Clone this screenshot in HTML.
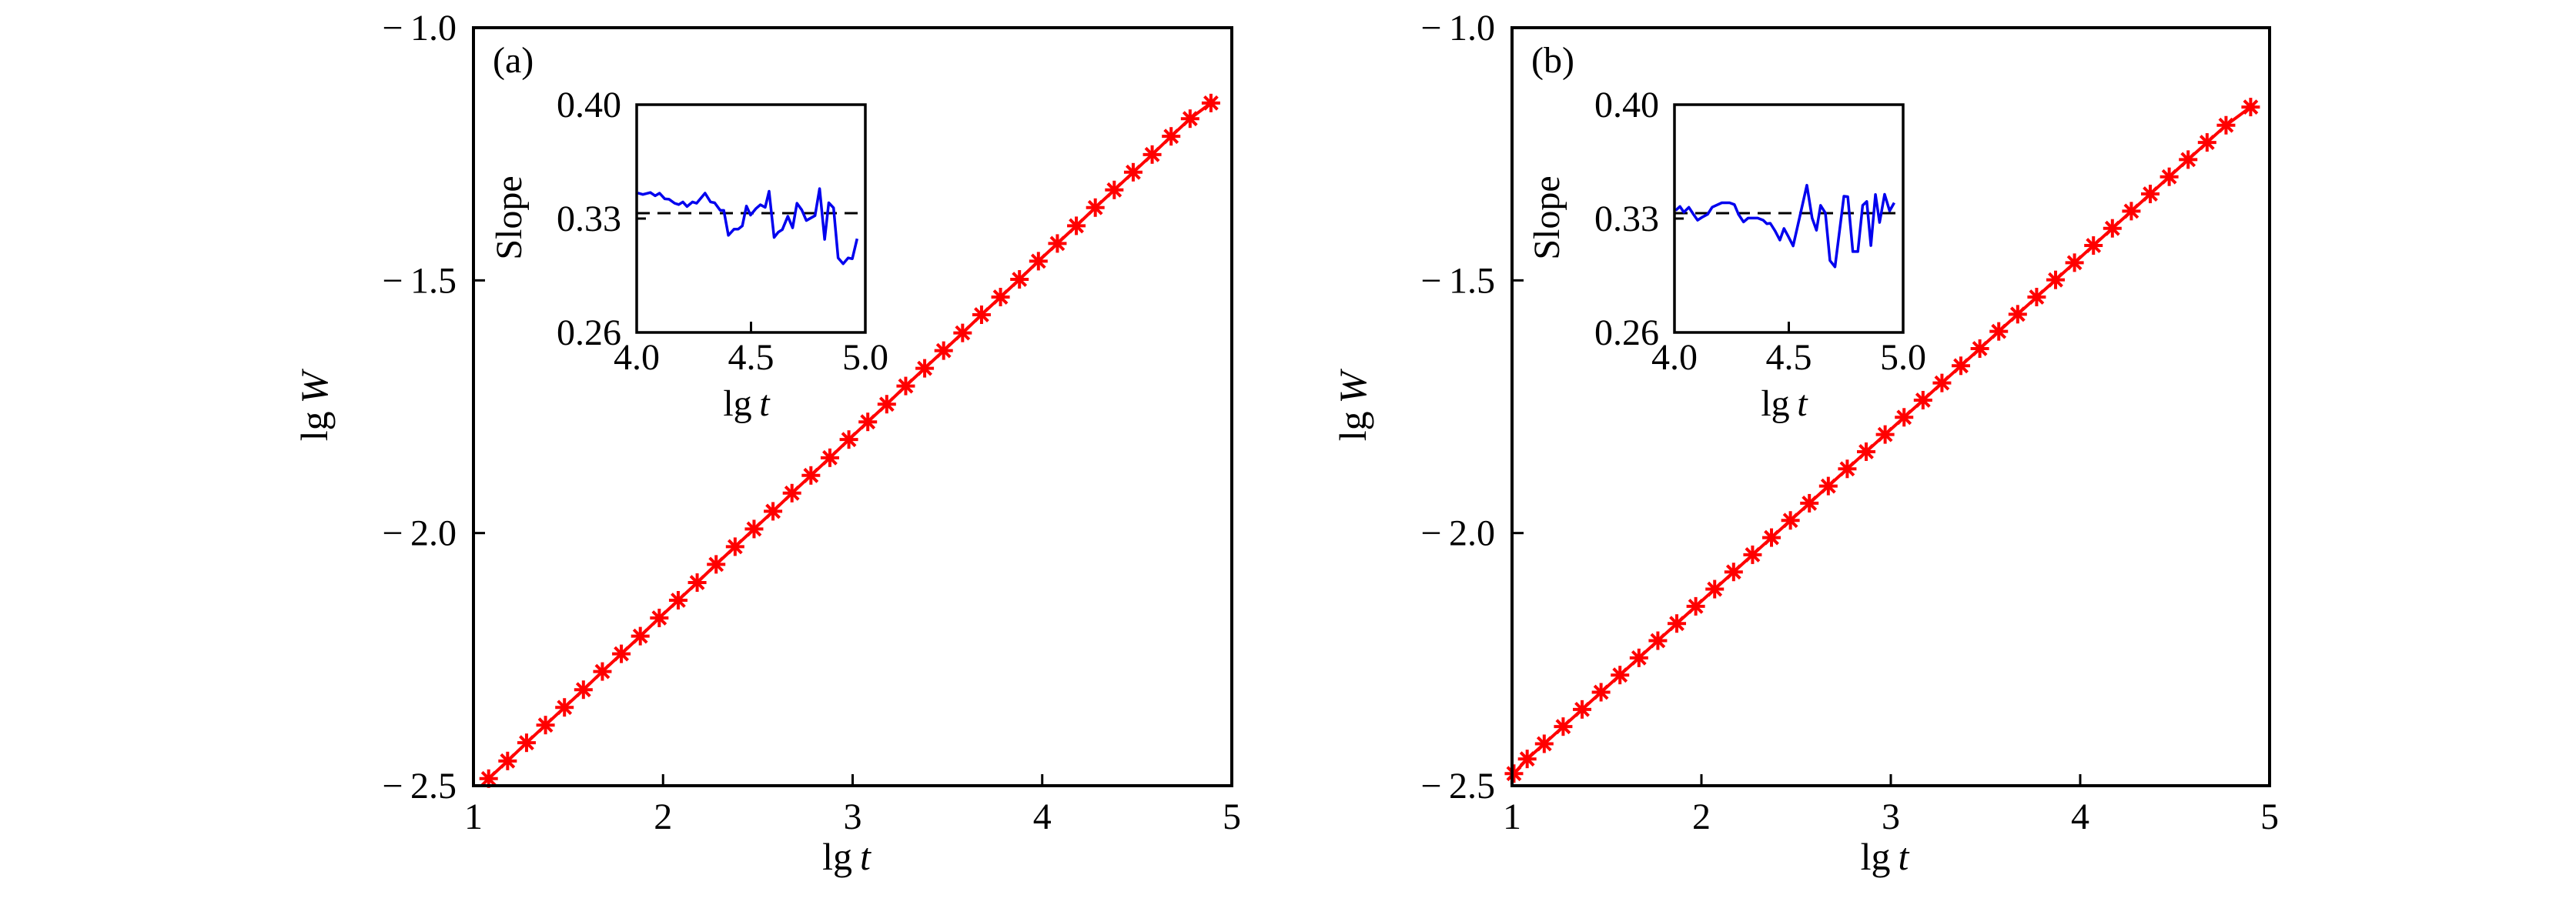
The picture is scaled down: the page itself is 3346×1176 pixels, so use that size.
<!DOCTYPE html>
<html><head><meta charset="utf-8"><style>
html,body{margin:0;padding:0;background:#fff;}
svg, svg text{font-family:"Liberation Serif","DejaVu Serif",serif;}
</style></head><body>
<svg id="chart" width="3346" height="1171" viewBox="0 0 3346 1171" xmlns="http://www.w3.org/2000/svg" font-family="Liberation Serif, DejaVu Serif, serif"></svg>
<script>
const mainXTicks = [1, 2, 3, 4, 5];
const mainYTicks = [-1.0, -1.5, -2.0, -2.5];
const insetXTicks = [4.0, 4.5, 5.0];
const insetYTicks = [0.26, 0.33, 0.40];
const refSlope = 0.3333;

const aX = [1.08,1.18,1.28,1.38,1.48,1.58,1.68,1.78,1.88,1.98,2.08,2.18,2.28,2.38,2.48,2.58,2.68,2.78,2.88,2.98,3.08,3.18,3.28,3.38,3.48,3.58,3.68,3.78,3.88,3.98,4.08,4.18,4.28,4.38,4.48,4.58,4.68,4.78,4.89];
const aY = [-2.486,-2.451,-2.415,-2.380,-2.345,-2.310,-2.274,-2.239,-2.204,-2.168,-2.133,-2.098,-2.062,-2.027,-1.992,-1.957,-1.921,-1.886,-1.851,-1.815,-1.780,-1.745,-1.709,-1.674,-1.639,-1.604,-1.568,-1.533,-1.498,-1.462,-1.427,-1.392,-1.356,-1.321,-1.286,-1.251,-1.215,-1.180,-1.149];
const bX = [1.01,1.08,1.17,1.27,1.37,1.47,1.57,1.67,1.77,1.87,1.97,2.07,2.17,2.27,2.37,2.47,2.57,2.67,2.77,2.87,2.97,3.07,3.17,3.27,3.37,3.47,3.57,3.67,3.77,3.87,3.97,4.07,4.17,4.27,4.37,4.47,4.57,4.67,4.77,4.90];
const bY = [-2.476,-2.447,-2.417,-2.383,-2.349,-2.315,-2.281,-2.247,-2.213,-2.179,-2.145,-2.111,-2.077,-2.043,-2.009,-1.975,-1.941,-1.907,-1.873,-1.839,-1.805,-1.771,-1.737,-1.703,-1.669,-1.635,-1.601,-1.567,-1.533,-1.499,-1.465,-1.431,-1.397,-1.363,-1.329,-1.295,-1.261,-1.227,-1.193,-1.157];

const aInsetX = [4.005,4.027,4.060,4.081,4.100,4.123,4.141,4.166,4.184,4.202,4.220,4.244,4.262,4.299,4.323,4.341,4.365,4.381,4.401,4.426,4.444,4.462,4.480,4.498,4.522,4.541,4.562,4.579,4.601,4.619,4.637,4.661,4.682,4.701,4.722,4.742,4.780,4.800,4.822,4.840,4.861,4.881,4.903,4.925,4.943,4.964];
const aInsetY = [0.3457,0.3448,0.3460,0.3440,0.3456,0.3421,0.3419,0.3394,0.3386,0.3402,0.3374,0.3402,0.3394,0.3456,0.3402,0.3397,0.3351,0.3350,0.3197,0.3235,0.3235,0.3255,0.3377,0.3321,0.3362,0.3385,0.3369,0.3468,0.3184,0.3216,0.3232,0.3314,0.3243,0.3394,0.3353,0.3288,0.3318,0.3484,0.3172,0.3397,0.3366,0.3058,0.3022,0.3058,0.3053,0.3176];
const bInsetX = [4.005,4.024,4.041,4.063,4.083,4.101,4.123,4.145,4.165,4.207,4.241,4.262,4.280,4.302,4.322,4.364,4.388,4.404,4.419,4.440,4.461,4.479,4.497,4.519,4.549,4.579,4.602,4.621,4.639,4.660,4.680,4.702,4.741,4.758,4.780,4.802,4.823,4.841,4.859,4.879,4.897,4.919,4.941,4.961];
const bInsetY = [0.3350,0.3374,0.3339,0.3369,0.3326,0.3290,0.3310,0.3326,0.3370,0.3397,0.3397,0.3386,0.3326,0.3279,0.3303,0.3303,0.3290,0.3268,0.3271,0.3224,0.3168,0.3239,0.3192,0.3132,0.3318,0.3505,0.3303,0.3228,0.3381,0.3334,0.3042,0.3003,0.3437,0.3434,0.3097,0.3097,0.3381,0.3405,0.3134,0.3448,0.3276,0.3449,0.3347,0.3397];

const NS = "http://www.w3.org/2000/svg";
const svg = document.getElementById('chart');
function mk(tag, attrs, parent) {
  const e = document.createElementNS(NS, tag);
  for (const k in attrs) e.setAttribute(k, attrs[k]);
  (parent || svg).appendChild(e);
  return e;
}
function txt(s, attrs, parent) {
  attrs['font-family'] = 'Liberation Serif, DejaVu Serif, serif';
  const t = mk('text', attrs, parent); t.textContent = s; return t;
}

function panel(cfg) {
  const g = mk('g', {});
  
  
  const L = cfg.left, R = cfg.right, T = 36, B = 1021;
  const sx = v => L + (v - 1) / 4 * (R - L);
  const sy = v => T + (-1.0 - v) / 1.5 * (B - T);
  mainXTicks.forEach(v => {
    if (v > 1 && v < 5) {
      const tk = mk('line', {x1: sx(v), x2: sx(v), y1: B, y2: B - 15, stroke: '#000', 'stroke-width': 3}, g);
      
      
    }
    const t = txt(String(v), {x: sx(v), y: 1077, 'font-size': 48, 'text-anchor': 'middle'}, g);
    
    
  });
  mainYTicks.forEach(v => {
    if (v < -1.0 && v > -2.5) {
      const tk = mk('line', {x1: L, x2: L + 15, y1: sy(v), y2: sy(v), stroke: '#000', 'stroke-width': 3}, g);
      
      
    }
    const t = txt('\u2212\u2009' + Math.abs(v).toFixed(1), {x: L - 22, y: sy(v) + 16, 'font-size': 48, 'text-anchor': 'end'}, g);
    
    
  });
  const pts = cfg.xs.map((x, i) => sx(x) + ',' + sy(cfg.ys[i])).join(' ');
  const ln = mk('polyline', {points: pts, fill: 'none', stroke: '#ff0000', 'stroke-width': 4}, g);
  
  
  cfg.xs.forEach((x, i) => {
    const cx = sx(x), cy = sy(cfg.ys[i]);
    if (cy > B + 5) return;
    const m = mk('g', {stroke: '#ff0000', 'stroke-width': 4}, g);
    
    
    for (let a = 0; a < 4; a++) {
      const ang = a * Math.PI / 4, r = 12;
      mk('line', {x1: cx - r * Math.cos(ang), y1: cy - r * Math.sin(ang), x2: cx + r * Math.cos(ang), y2: cy + r * Math.sin(ang)}, m);
    }
  });
  const fr = mk('rect', {x: L, y: T, width: R - L, height: B - T, fill: 'none', stroke: '#000', 'stroke-width': 4}, g);
  
  
  const xl = txt('lg\u2009', {x: (L + R) / 2 - 8, y: 1130, 'font-size': 50, 'text-anchor': 'middle'}, g);
  const ti = mk('tspan', {'font-style': 'italic'}, xl); ti.textContent = 't';
  
  
  const yl = txt('lg\u2009', {x: 0, y: 0, 'font-size': 50, 'text-anchor': 'middle', transform: 'translate(' + (L - 190) + ',528) rotate(-90)'}, g);
  const wi = mk('tspan', {'font-style': 'italic'}, yl); wi.textContent = 'W';
  
  
  const pl = txt(cfg.label, {x: L + 25, y: 94, 'font-size': 48}, g);
  
  

  const iL = cfg.iLeft, iR = cfg.iLeft + 297, iT = 136, iB = 432;
  const ix = v => iL + (v - 4) * (iR - iL);
  const iy = v => iT + (0.40 - v) / 0.14 * (iB - iT);
  const ig = mk('g', {}, g);
  
  
  const dl = mk('line', {x1: iL, x2: iR, y1: iy(refSlope), y2: iy(refSlope), stroke: '#000', 'stroke-width': 3, 'stroke-dasharray': '17,10'}, ig);
  
  
  const ip = cfg.ixs.map((x, i) => ix(x) + ',' + iy(cfg.iys[i])).join(' ');
  const bl = mk('polyline', {points: ip, fill: 'none', stroke: '#0000ee', 'stroke-width': 3.5, 'stroke-linejoin': 'round'}, ig);
  
  
  const ifr = mk('rect', {x: iL, y: iT, width: iR - iL, height: iB - iT, fill: 'none', stroke: '#000', 'stroke-width': 3.5}, ig);
  
  
  insetXTicks.forEach(v => {
    if (v > 4 && v < 5) mk('line', {x1: ix(v), x2: ix(v), y1: iB, y2: iB - 14, stroke: '#000', 'stroke-width': 3}, ig);
    const t = txt(v.toFixed(1), {x: ix(v), y: 480, 'font-size': 48, 'text-anchor': 'middle'}, ig);
    
    
  });
  insetYTicks.forEach(v => {
    if (v > 0.26 && v < 0.40) mk('line', {x1: iL, x2: iL + 12, y1: iy(v), y2: iy(v), stroke: '#000', 'stroke-width': 3}, ig);
    const t = txt(v.toFixed(2), {x: iL - 20, y: iy(v) + 16, 'font-size': 48, 'text-anchor': 'end'}, ig);
    
    
  });
  const ixl = txt('lg\u2009', {x: (iL + iR) / 2 - 6, y: 540, 'font-size': 48, 'text-anchor': 'middle'}, ig);
  const it = mk('tspan', {'font-style': 'italic'}, ixl); it.textContent = 't';
  
  
  const iyl = txt('Slope', {x: 0, y: 0, 'font-size': 48, 'text-anchor': 'middle', transform: 'translate(' + (iL - 150) + ',283) rotate(-90)'}, ig);
  
  
}

panel({id: 'a', label: '(a)', left: 615, right: 1600, iLeft: 827, xs: aX, ys: aY, ixs: aInsetX, iys: aInsetY});
panel({id: 'b', label: '(b)', left: 1964, right: 2948, iLeft: 2175, xs: bX, ys: bY, ixs: bInsetX, iys: bInsetY});
</script>
</body></html>
